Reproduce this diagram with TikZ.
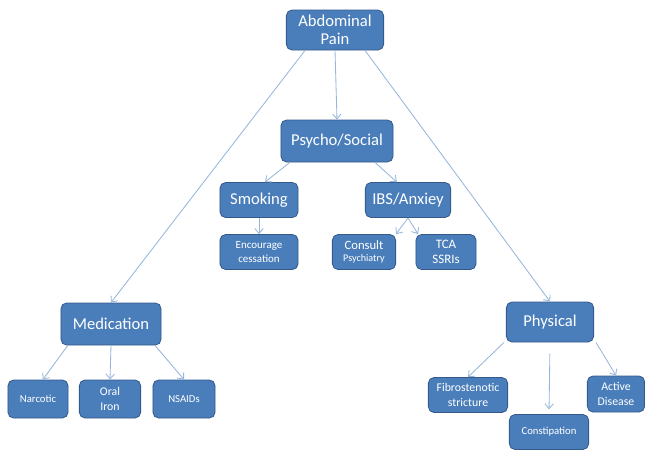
\documentclass[tikz,border=0pt]{standalone}
\usepackage{fontspec}
\setmainfont{Carlito}
\usepackage{tikz}
\usetikzlibrary{arrows.meta, positioning}
\usepackage{xcolor}
\definecolor{boxblue}{RGB}{74,126,187}
\definecolor{boxedge}{RGB}{52,90,140}
\definecolor{linkblue}{RGB}{150,182,218}
\tikzset{
  basebox/.style={
    rectangle, rounded corners=4pt, draw=boxedge, fill=boxblue, text=white,
    align=center, inner sep=0pt, line width=0.6pt
  },
  topbox/.style={basebox, font=\fontsize{11.8}{12.5}\selectfont},
  midbox/.style={basebox, font=\fontsize{11.8}{13}\selectfont},
  leafbox/.style={basebox, font=\fontsize{7.6}{10}\selectfont, minimum height=0.875cm},
  arrow/.style={-{Straight Barb[length=3.5pt,width=6pt]}, color=linkblue, line width=0.6pt}
}

\begin{document}
\begin{tikzpicture}[x=0.025cm, y=-0.025cm]
  \useasboundingbox (0,0) rectangle (645,450);
  % top level
  \node[topbox, minimum width=2.43cm, minimum height=1cm] (abd) at (335,30) {Abdominal\\Pain};
  % psycho / social branch
  \node[midbox, minimum width=2.8cm, minimum height=1.05cm] (psy) at (337,141) {Psycho/Social};
  \node[midbox, minimum width=1.95cm, minimum height=0.875cm] (smoke) at (259,200) {Smoking};
  \node[midbox, minimum width=2.13cm, minimum height=0.875cm] (ibs) at (408,200) {IBS/Anxiey};
  \node[leafbox, minimum width=1.95cm, font=\fontsize{7.8}{10}\selectfont] (enc) at (259,252) {Encourage\\cessation};
  \node[leafbox, minimum width=1.58cm, font=\fontsize{9}{10}\selectfont] (consult) at (364,252)
        {Consult\\[-1pt]{\fontsize{7.2}{8}\selectfont Psychiatry}};
  \node[leafbox, minimum width=1.5cm, font=\fontsize{9.2}{11}\selectfont] (tca) at (446,252) {TCA\\SSRIs};
  % medication branch
  \node[midbox, minimum width=2.5cm, minimum height=1.05cm] (med) at (111,324) {Medication};
  \node[leafbox, minimum width=1.5cm, minimum height=0.95cm] (narc) at (38,399) {Narcotic};
  \node[leafbox, minimum width=1.53cm, minimum height=0.95cm, font=\fontsize{8.4}{11}\selectfont] (iron) at (110,399) {Oral\\Iron};
  \node[leafbox, minimum width=1.55cm, minimum height=0.95cm] (nsaid) at (184,399) {NSAIDs};
  % physical branch
  \node[midbox, minimum width=2.18cm, minimum height=1cm] (phys) at (550,322) {Physical};
  \node[leafbox, minimum width=1.98cm, font=\fontsize{8.4}{10.5}\selectfont] (fibro) at (468,395) {Fibrostenotic\\stricture};
  \node[leafbox, minimum width=1.98cm] (const) at (549,432) {Constipation};
  \node[leafbox, minimum width=1.43cm, minimum height=0.9cm, font=\fontsize{8.4}{10.5}\selectfont] (active) at (616,394) {Active\\Disease};

  \draw[arrow] ([xshift=-0.75cm]abd.south) -- (med.north);
  \draw[arrow] (abd.south) -- (psy.north);
  \draw[arrow] ([xshift=0.75cm]abd.south) -- (phys.north);
  \draw[arrow] ([xshift=-1.18cm]psy.south) -- ([xshift=0.15cm]smoke.north);
  \draw[arrow] ([xshift=0.95cm]psy.south) -- ([xshift=-0.28cm]ibs.north);
  \draw[arrow] (smoke.south) -- (enc.north);
  \draw[arrow] (ibs.south) -- ([xshift=0.8cm]consult.north);
  \draw[arrow] (ibs.south) -- ([xshift=-0.7cm]tca.north);
  \draw[arrow] ([xshift=-1.08cm]med.south) -- ([xshift=0.12cm]narc.north);
  \draw[arrow] (med.south) -- (iron.north);
  \draw[arrow] ([xshift=1.1cm]med.south) -- (nsaid.north);
  \draw[arrow] ([xshift=-0.05cm]phys.south west) -- (fibro.north);
  \draw[arrow, shorten <=0.28cm, shorten >=0.12cm] (phys.south) -- (const.north);
  \draw[arrow] ([xshift=0.05cm]phys.south east) -- (active.north);
\end{tikzpicture}
\end{document}
